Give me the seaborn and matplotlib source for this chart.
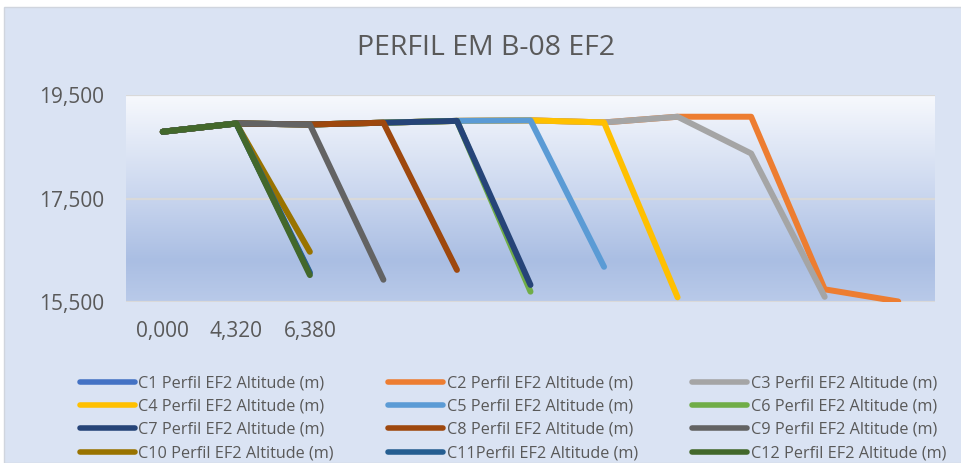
import numpy as np
import pandas as pd
import matplotlib
matplotlib.use("Agg")
import matplotlib.pyplot as plt
from matplotlib.patches import Rectangle
from matplotlib.colors import LinearSegmentedColormap
import seaborn as sns

# ---------------- data ----------------
x_labels = ["0,000", "4,320", "6,380"]
series_names = [
    "C1 Perfil EF2 Altitude (m)", "C2 Perfil EF2 Altitude (m)", "C3 Perfil EF2 Altitude (m)",
    "C4 Perfil EF2 Altitude (m)", "C5 Perfil EF2 Altitude (m)", "C6 Perfil EF2 Altitude (m)",
    "C7 Perfil EF2 Altitude (m)", "C8 Perfil EF2 Altitude (m)", "C9 Perfil EF2 Altitude (m)",
    "C10 Perfil EF2 Altitude (m)", "C11Perfil EF2 Altitude (m)", "C12 Perfil EF2 Altitude (m)",
]
c1 = [18.79, 18.95, 16.05]
c2 = [18.79, 18.95, 18.93, 18.965, 19.00, 19.01, 18.97, 19.08, 19.08, 15.745, 15.51]
c3 = [18.79, 18.95, 18.93, 18.965, 19.00, 19.01, 18.97, 19.08, 18.37, 15.60]
c4 = [18.79, 18.95, 18.93, 18.965, 19.00, 19.01, 18.97, 15.59]
c5 = [18.79, 18.95, 18.93, 18.965, 19.00, 19.01, 16.18]
c6 = [18.79, 18.95, 18.93, 18.965, 19.00, 15.70]
c7 = [18.79, 18.95, 18.93, 18.965, 19.00, 15.83]
c8 = [18.79, 18.95, 18.93, 18.965, 16.12]
c9 = [18.79, 18.95, 18.93, 15.93]
c10 = [18.79, 18.95, 16.47]
c11 = [18.79, 18.95, 16.07]
c12 = [18.79, 18.95, 16.02]
all_series = [c1, c2, c3, c4, c5, c6, c7, c8, c9, c10, c11, c12]
y_ticks = [15.5, 17.5, 19.5]

colors = ["#4472C4", "#ED7D31", "#A5A5A5", "#FFC000", "#5B9BD5", "#70AD47",
          "#264478", "#9E480E", "#636363", "#997300", "#255E91", "#43682B"]

rows = []
for name, vals in zip(series_names, all_series):
    for i, v in enumerate(vals):
        rows.append({"serie": name, "idx": i, "alt": v})
df = pd.DataFrame(rows)

# ---------------- figure ----------------
sns.set_theme(style="white")
plt.rcParams["font.family"] = ["Open Sans", "DejaVu Sans"]

W, H = 962, 463
fig = plt.figure(figsize=(W / 100, H / 100), dpi=100)
fig.patch.set_facecolor("white")
fig.add_artist(Rectangle((4 / W, 0), (W - 4) / W, (H - 7) / H, transform=fig.transFigure,
                         facecolor="#DAE3F3", edgecolor="#D0D5DE", lw=1, zorder=-20))

left, right, top, bottom = 126, 935, 95, 302
pos = [left / W, 1 - bottom / H, (right - left) / W, (bottom - top) / H]

bgax = fig.add_axes(pos, zorder=0)
cmap = LinearSegmentedColormap.from_list(
    "g", [(0, "#F7F9FD"), (0.5, "#C8D5EE"), (0.8, "#AABEE3"), (1.0, "#B9CAE9")])
bgax.imshow(np.linspace(0, 1, 256).reshape(-1, 1), aspect="auto", cmap=cmap,
            extent=[0, 1, 0, 1])
bgax.set_axis_off()

ax = fig.add_axes(pos, zorder=1)
ax.patch.set_alpha(0)
sns.lineplot(data=df, x="idx", y="alt", hue="serie", hue_order=series_names,
             palette=colors, sort=False, lw=4.3, ax=ax, legend=True,
             solid_capstyle="round", solid_joinstyle="round")

leg = ax.get_legend()
handles = list(leg.legend_handles)
labels = [t.get_text() for t in leg.get_texts()]
leg.remove()

ax.set_xlim(-0.5, 10.5)
ax.set_ylim(15.5, 19.5)
ax.set_xticks([0, 1, 2])
ax.set_xticklabels(x_labels)
ax.set_yticks(y_ticks)
ax.set_yticklabels([f"{v:,.3f}".replace(".", ",") for v in y_ticks])
ax.set_xlabel("")
ax.set_ylabel("")
for s in ax.spines.values():
    s.set_visible(False)
ax.yaxis.grid(True, color="#D9D9D9", lw=1.6)
ax.xaxis.grid(False)
ax.tick_params(axis="both", length=0, labelsize=15, labelcolor="#595959")
ax.tick_params(axis="y", pad=16)
ax.tick_params(axis="x", pad=14)
for t in ax.get_yticklabels():
    t.set_clip_on(False)

fig.text(486 / W, 1 - 48 / H, "PERFIL EM B-08 EF2", ha="center", va="center",
         fontsize=20.5, color="#595959")

order = [0, 3, 6, 9, 1, 4, 7, 10, 2, 5, 8, 11]
for h in handles:
    h.set_linewidth(4)
    h.set_solid_capstyle("round")
lg = fig.legend([handles[i] for i in order], [labels[i] for i in order], ncol=3,
                loc="upper left", bbox_to_anchor=(80 / W, 1 - 380 / H, (946 - 80) / W, 0.01),
                mode="expand", frameon=False, fontsize=11.7, handlelength=3.4,
                handletextpad=0.2, labelspacing=0.45, borderaxespad=0, borderpad=0)
for t in lg.get_texts():
    t.set_color("#595959")

fig.savefig("out.png", dpi=100, facecolor=fig.get_facecolor())
